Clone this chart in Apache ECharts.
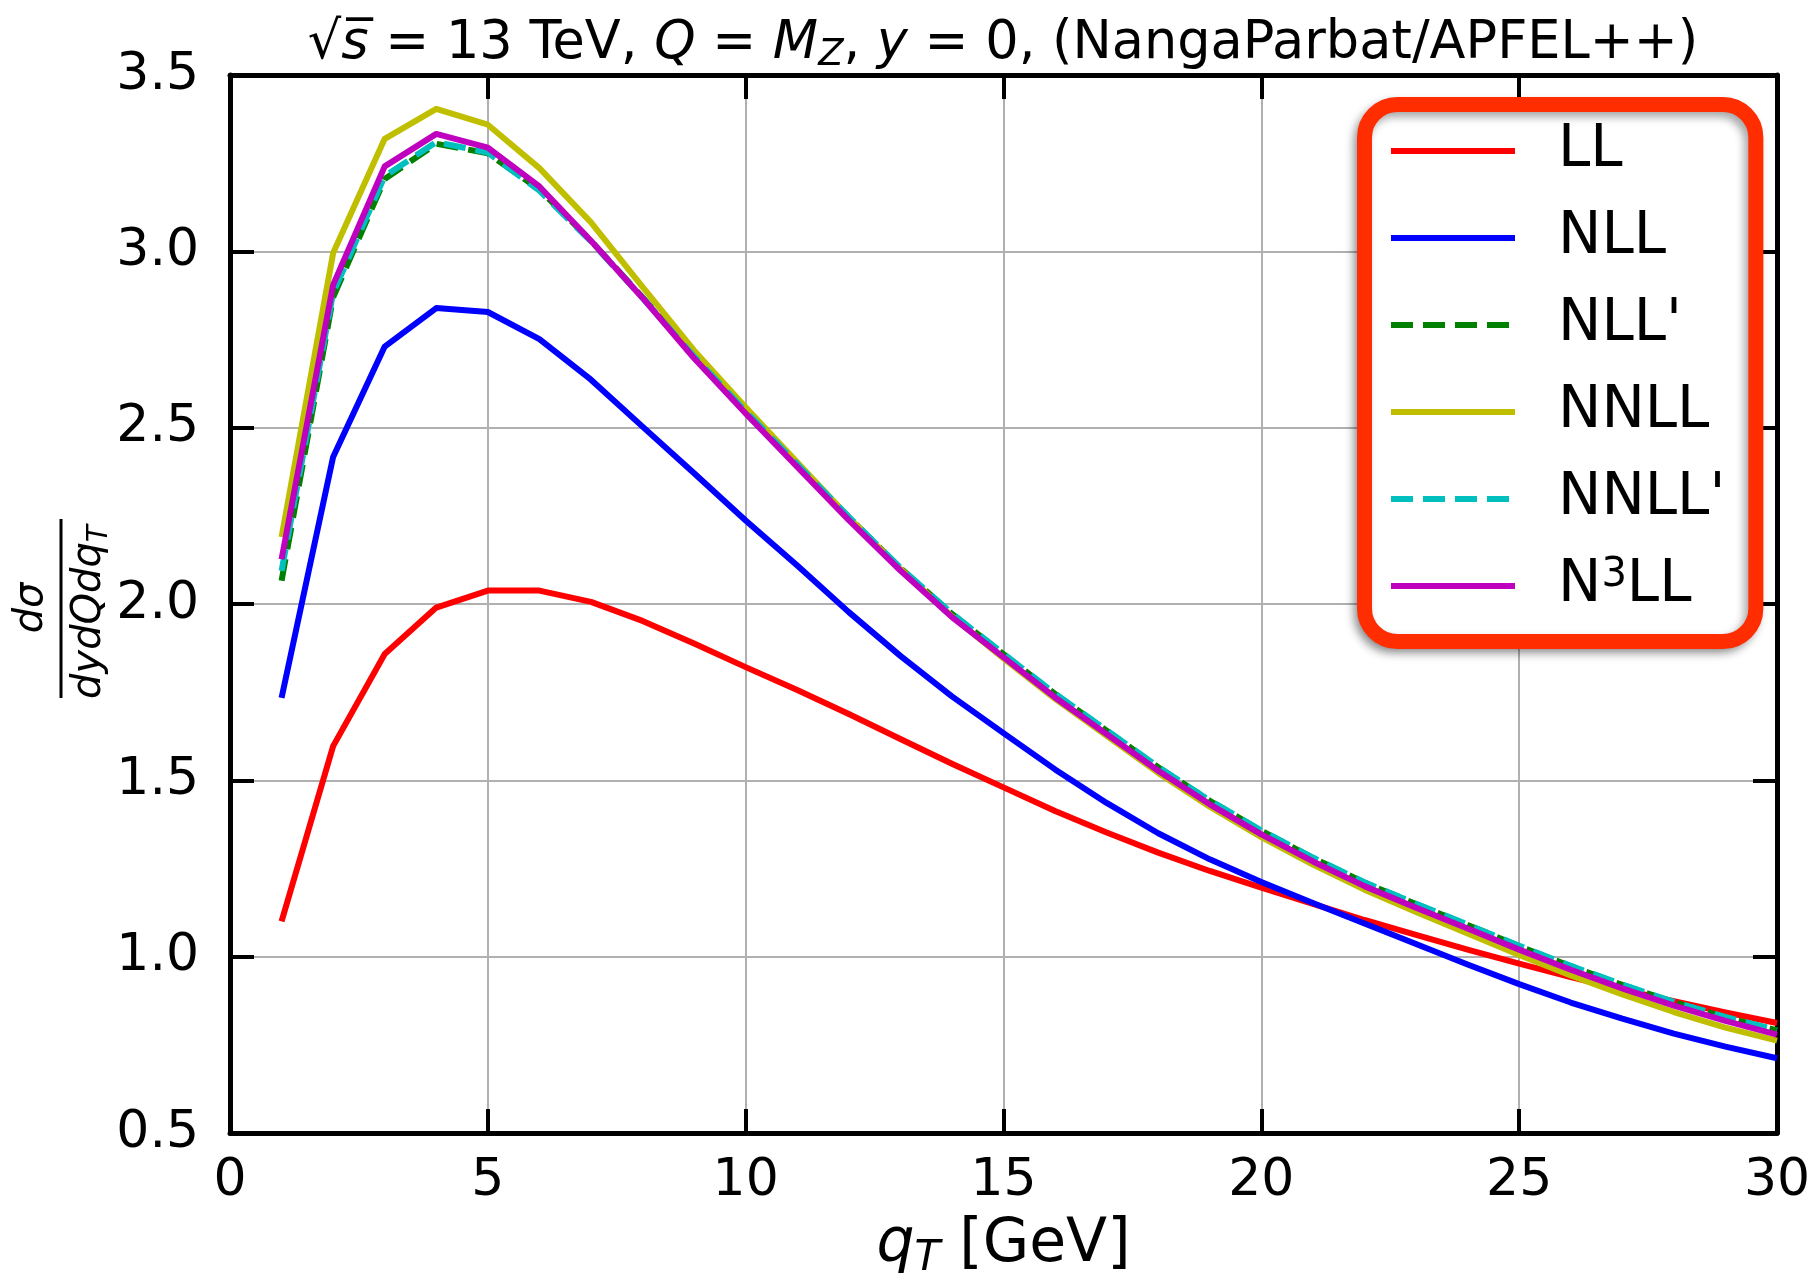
<!DOCTYPE html>
<html>
<head>
<meta charset="utf-8">
<script src="https://cdn.jsdelivr.net/npm/echarts@6/dist/echarts.min.js"></script>
<style>
html,body{margin:0;padding:0;background:#fff;}
#chart{width:1818px;height:1273px;}
</style>
</head>
<body>
<div id="chart"></div>
<script>
// ---- data ----
const qT = [1,2,3,4,5,6,7,8,9,10,11,12,13,14,15,16,17,18,19,20,21,22,23,24,25,26,27,28,29,30];
const LL   = [1.100,1.597,1.858,1.990,2.038,2.038,2.006,1.952,1.888,1.821,1.756,1.688,1.617,1.547,1.480,1.413,1.352,1.295,1.243,1.196,1.150,1.104,1.062,1.020,0.980,0.942,0.907,0.874,0.842,0.812];
const NLL  = [1.734,2.417,2.730,2.839,2.828,2.751,2.636,2.503,2.371,2.237,2.109,1.977,1.853,1.738,1.634,1.531,1.436,1.350,1.276,1.212,1.152,1.094,1.036,0.978,0.922,0.870,0.824,0.782,0.745,0.712];
const NLLp = [2.066,2.870,3.205,3.305,3.278,3.175,3.030,2.870,2.703,2.547,2.396,2.246,2.102,1.972,1.858,1.745,1.641,1.537,1.442,1.357,1.280,1.210,1.149,1.090,1.030,0.973,0.920,0.871,0.828,0.791];
const NNLL = [2.190,2.995,3.319,3.404,3.359,3.236,3.082,2.899,2.719,2.558,2.402,2.246,2.099,1.965,1.846,1.731,1.626,1.521,1.425,1.339,1.261,1.190,1.127,1.066,1.005,0.947,0.893,0.843,0.799,0.762];
const NNLLp= [2.094,2.882,3.213,3.310,3.280,3.172,3.028,2.868,2.702,2.546,2.396,2.247,2.103,1.973,1.859,1.746,1.642,1.538,1.443,1.358,1.281,1.211,1.150,1.091,1.031,0.974,0.921,0.872,0.829,0.792];
const N3LL = [2.127,2.905,3.241,3.333,3.294,3.184,3.030,2.868,2.697,2.540,2.389,2.238,2.095,1.963,1.849,1.735,1.631,1.527,1.432,1.347,1.270,1.200,1.139,1.080,1.020,0.963,0.910,0.861,0.818,0.779];
const seriesNames = ['LL','NLL',"NLL'",'NNLL',"NNLL'",'N3LL'];
const xTicks = [0,5,10,15,20,25,30];
const yTicks = [0.5,1.0,1.5,2.0,2.5,3.0,3.5];

// ---- styling ----
const FONT = '"DejaVu Sans", "Noto Sans", sans-serif';
const values = [LL, NLL, NLLp, NNLL, NNLLp, N3LL];
const colors = ['#ff0000','#0000ff','#008000','#bfbf00','#00bfbf','#bf00bf'];
const dashes = ['solid','solid',[22,10],'solid',[22,10],'solid'];

const series = seriesNames.map((name, i) => ({
  name: name,
  type: 'line',
  data: qT.map((q, k) => [q, values[i][k]]),
  symbol: 'none',
  showSymbol: false,
  smooth: false,
  clip: true,
  color: colors[i],
  itemStyle: { color: colors[i] },
  lineStyle: { color: colors[i], width: 6, type: dashes[i], join: 'round', cap: 'butt' },
  emphasis: { disabled: true },
  z: 2 + i
}));

const tickStyle = { show: true, inside: true, length: 24, lineStyle: { color: '#000', width: 4 } };
const axisLineStyle = { show: true, onZero: false, lineStyle: { color: '#000', width: 5 } };

const chart = echarts.init(document.getElementById('chart'), null, { renderer: 'canvas' });
chart.setOption({
  animation: false,
  backgroundColor: '#fff',
  title: {
    text: '√{i|s\u0305} = 13 TeV, {i|Q} = {i|M}{s|Z}, {i|y} = 0, (NangaParbat/APFEL++)',
    left: 1003, top: 14, textAlign: 'center', padding: 0,
    textStyle: {
      fontFamily: FONT, fontSize: 52.5, fontWeight: 'normal', color: '#000', lineHeight: 60,
      rich: {
        i: { fontFamily: FONT, fontSize: 52.5, fontStyle: 'italic', color: '#000', lineHeight: 60 },
        s: { fontFamily: FONT, fontSize: 37, fontStyle: 'italic', color: '#000', lineHeight: 32, verticalAlign: 'bottom' }
      }
    }
  },
  grid: { left: 230, right: 41, top: 75, bottom: 140, containLabel: false, outerBoundsMode: 'none', show: false },
  legend: {
    show: true, orient: 'vertical', left: 1364.5, top: 104.5,
    padding: [16.5, 30.5, 25.5, 23.5],
    itemWidth: 124, itemHeight: 30, itemGap: 27,
    borderColor: '#ff2d00', borderWidth: 15, borderRadius: 33,
    backgroundColor: '#ffffff',
    shadowBlur: 8, shadowColor: 'rgba(0,0,0,0.35)', shadowOffsetX: -4, shadowOffsetY: 5,
    selectedMode: false,
    itemStyle: { color: 'rgba(0,0,0,0)', borderWidth: 0 },
    lineStyle: { width: 6 },
    data: seriesNames,
    formatter: n => n === 'N3LL' ? 'N{sup|3}LL' : n,
    textStyle: {
      fontFamily: FONT, fontSize: 58, color: '#000', lineHeight: 60, padding: [0, 0, 0, 38],
      rich: { sup: { fontFamily: FONT, fontSize: 40, color: '#000', lineHeight: 40, verticalAlign: 'top' } }
    }
  },
  xAxis: [
    {
      type: 'value', position: 'bottom', min: xTicks[0], max: xTicks[xTicks.length - 1], interval: xTicks[1] - xTicks[0],
      axisLine: axisLineStyle, axisTick: tickStyle,
      axisLabel: { show: true, margin: 22, fontFamily: FONT, fontSize: 52, color: '#000', showMinLabel: true, showMaxLabel: true },
      splitLine: { show: true, lineStyle: { color: '#b0b0b0', width: 2 } },
      name: '{i|q}{s|T} [GeV]', nameLocation: 'middle', nameGap: 76,
      nameTextStyle: {
        fontFamily: FONT, fontSize: 60, color: '#000', lineHeight: 68,
        rich: {
          i: { fontFamily: FONT, fontSize: 60, fontStyle: 'italic', color: '#000', lineHeight: 68 },
          s: { fontFamily: FONT, fontSize: 42, fontStyle: 'italic', color: '#000', lineHeight: 36, verticalAlign: 'bottom' }
        }
      }
    },
    {
      type: 'value', position: 'top', min: xTicks[0], max: xTicks[xTicks.length - 1], interval: xTicks[1] - xTicks[0],
      axisLine: axisLineStyle, axisTick: tickStyle, axisLabel: { show: false }, splitLine: { show: false }
    }
  ],
  yAxis: [
    {
      type: 'value', position: 'left', min: yTicks[0], max: yTicks[yTicks.length - 1], interval: yTicks[1] - yTicks[0],
      axisLine: axisLineStyle, axisTick: tickStyle,
      axisLabel: { show: true, margin: 31, fontFamily: FONT, fontSize: 52, color: '#000', formatter: v => v.toFixed(1), showMinLabel: true, showMaxLabel: true },
      splitLine: { show: true, lineStyle: { color: '#b0b0b0', width: 2 } }
    },
    {
      type: 'value', position: 'right', min: yTicks[0], max: yTicks[yTicks.length - 1], interval: yTicks[1] - yTicks[0],
      axisLine: axisLineStyle, axisTick: tickStyle, axisLabel: { show: false }, splitLine: { show: false }
    }
  ],
  graphic: [
    {
      type: 'text', x: 32, y: 608, rotation: Math.PI / 2, silent: true,
      style: { text: 'dσ', font: 'italic 40px ' + FONT, fill: '#000', align: 'center', verticalAlign: 'middle' }
    },
    {
      type: 'line', silent: true,
      shape: { x1: 61, y1: 519, x2: 61, y2: 698 },
      style: { stroke: '#000', lineWidth: 3 }
    },
    {
      type: 'text', x: 90, y: 612, rotation: Math.PI / 2, silent: true,
      style: {
        text: '{m|dydQdq}{s|T}', fill: '#000', align: 'center', verticalAlign: 'middle',
        rich: {
          m: { fontFamily: FONT, fontSize: 40, fontStyle: 'italic', lineHeight: 48, fill: '#000' },
          s: { fontFamily: FONT, fontSize: 28, fontStyle: 'italic', lineHeight: 26, verticalAlign: 'bottom', fill: '#000' }
        }
      }
    }
  ],
  series: series
});
</script>
</body>
</html>
